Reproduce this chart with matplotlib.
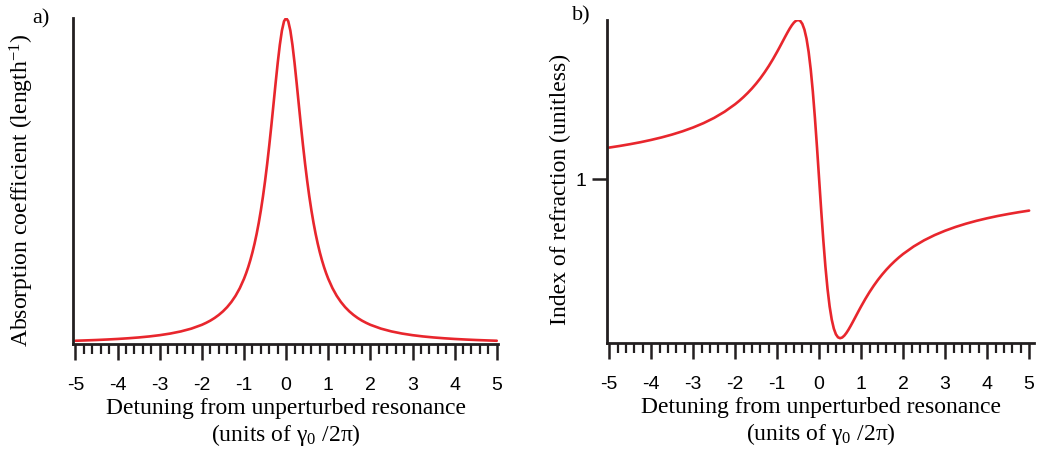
import matplotlib
matplotlib.use("Agg")
import matplotlib.pyplot as plt
from matplotlib.ticker import MultipleLocator, FixedLocator

plt.rcParams["mathtext.default"] = "regular"
plt.rcParams["axes.unicode_minus"] = False

# detuning values (units of gamma0 / 2pi)
detuning = [-5, -4.75, -4.5, -4.25, -4, -3.75, -3.5, -3.25, -3, -2.75, -2.5, -2.25,
            -2, -1.9, -1.8, -1.7, -1.6, -1.5, -1.4, -1.3, -1.2, -1.1,
            -1, -0.95, -0.9, -0.85, -0.8, -0.75, -0.7, -0.65, -0.6, -0.55, -0.5,
            -0.45, -0.4, -0.35, -0.3, -0.25, -0.2, -0.15, -0.1, -0.05, 0,
            0.05, 0.1, 0.15, 0.2, 0.25, 0.3, 0.35, 0.4, 0.45, 0.5, 0.55, 0.6,
            0.65, 0.7, 0.75, 0.8, 0.85, 0.9, 0.95, 1,
            1.1, 1.2, 1.3, 1.4, 1.5, 1.6, 1.7, 1.8, 1.9, 2,
            2.25, 2.5, 2.75, 3, 3.25, 3.5, 3.75, 4, 4.25, 4.5, 4.75, 5]

# a) absorption (arbitrary units, peak = 1)
absorption = [0.0099, 0.0110, 0.0122, 0.0137, 0.0154, 0.0175, 0.0200, 0.0231,
              0.0270, 0.0320, 0.0385, 0.0471,
              0.0588, 0.0648, 0.0716, 0.0796, 0.0890, 0.1000, 0.1131, 0.1289,
              0.1479, 0.1712,
              0.2000, 0.2169, 0.2358, 0.2571, 0.2809, 0.3077, 0.3378, 0.3717,
              0.4098, 0.4525, 0.5000, 0.5525, 0.6098, 0.6711, 0.7353, 0.8000,
              0.8621, 0.9174, 0.9615, 0.9901, 1.0000,
              0.9901, 0.9615, 0.9174, 0.8621, 0.8000, 0.7353, 0.6711, 0.6098,
              0.5525, 0.5000, 0.4525, 0.4098, 0.3717, 0.3378, 0.3077, 0.2809,
              0.2571, 0.2358, 0.2169, 0.2000,
              0.1712, 0.1479, 0.1289, 0.1131, 0.1000, 0.0890, 0.0796, 0.0716,
              0.0648, 0.0588,
              0.0471, 0.0385, 0.0320, 0.0270, 0.0231, 0.0200, 0.0175, 0.0154,
              0.0137, 0.0122, 0.0110, 0.0099]

# b) index of refraction (1 = unperturbed)
index = [1.0990, 1.1041, 1.1098, 1.1160, 1.1231, 1.1310, 1.1400, 1.1503,
         1.1622, 1.1760, 1.1923, 1.2118,
         1.2353, 1.2461, 1.2579, 1.2707, 1.2847, 1.3000, 1.3167, 1.3351,
         1.3550, 1.3767,
         1.4000, 1.4121, 1.4245, 1.4370, 1.4494, 1.4615, 1.4730, 1.4833,
         1.4918, 1.4977, 1.5000, 1.4972, 1.4878, 1.4698, 1.4412, 1.4000,
         1.3448, 1.2752, 1.1923, 1.0990, 1.0000,
         0.9010, 0.8077, 0.7248, 0.6552, 0.6000, 0.5588, 0.5302, 0.5122,
         0.5028, 0.5000, 0.5023, 0.5082, 0.5167, 0.5270, 0.5385, 0.5506,
         0.5630, 0.5755, 0.5879, 0.6000,
         0.6233, 0.6450, 0.6649, 0.6833, 0.7000, 0.7153, 0.7293, 0.7421,
         0.7539, 0.7647,
         0.7882, 0.8077, 0.8240, 0.8378, 0.8497, 0.8600, 0.8690, 0.8769,
         0.8840, 0.8902, 0.8959, 0.9010]

red = "#e8262d"
dark = "#231f20"
serif = "Liberation Serif"
sans = "Liberation Sans"

fig = plt.figure(figsize=(10.38, 4.51), dpi=100)
ax1 = fig.add_axes([0.0703, 0.2373, 0.4095, 0.7228])
ax2 = fig.add_axes([0.5848, 0.2395, 0.4115, 0.7162])

for ax in (ax1, ax2):
    for s in ("top", "right"):
        ax.spines[s].set_visible(False)
    for s in ("left", "bottom"):
        ax.spines[s].set_linewidth(2.0)
        ax.spines[s].set_color(dark)
    ax.xaxis.set_major_locator(MultipleLocator(1))
    ax.xaxis.set_minor_locator(MultipleLocator(0.2))
    ax.tick_params(axis="x", which="major", length=11.5, width=1.8, color=dark,
                   labelsize=14, pad=12)
    ax.tick_params(axis="x", which="minor", length=7.2, width=1.6, color=dark)
    for lab in ax.get_xticklabels():
        lab.set_fontfamily(sans)
    ax.set_xlabel("Detuning from unperturbed resonance\n(units of γ$_0$ /2π)",
                  fontfamily=serif, fontsize=17, linespacing=1.15, labelpad=3)

ax1.plot(detuning, absorption, color=red, lw=1.9, solid_capstyle="round")
ax1.set_xlim(-5.06, 5.03)
ax1.set_ylim(0, 1.0)
ax1.set_yticks([])
ax1.set_ylabel("Absorption coefficient (length$^{-1}$)", fontfamily=serif, fontsize=17)
ax1.yaxis.set_label_coords(-0.086, 0.472)
fig.text(0.031, 0.958, "a)", fontfamily=serif, fontsize=16, va="center")

ax2.plot(detuning, index, color=red, lw=1.9, solid_capstyle="round")
ax2.set_xlim(-5.05, 5.12)
ax2.set_ylim(0.485, 1.5)
ax2.yaxis.set_major_locator(FixedLocator([1]))
ax2.tick_params(axis="y", length=11, width=1.8, color=dark, labelsize=14, pad=4)
for lab in ax2.get_yticklabels():
    lab.set_fontfamily(sans)
ax2.set_ylabel("Index of refraction (unitless)", fontfamily=serif, fontsize=17)
ax2.yaxis.set_label_coords(-0.085, 0.474)
fig.text(0.551, 0.965, "b)", fontfamily=serif, fontsize=16, va="center")

plt.savefig("out.png", dpi=100)
plt.close()
